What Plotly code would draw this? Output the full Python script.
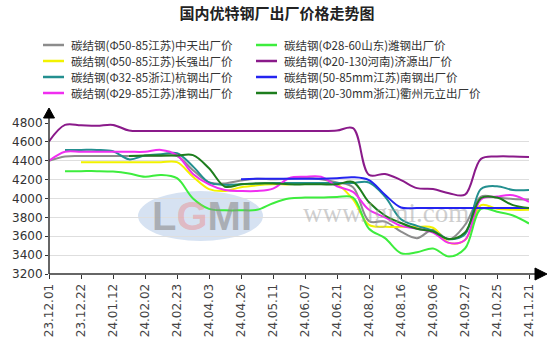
import plotly.graph_objects as go

# ---------------- data ----------------
x_index = list(range(31))
tick_positions = list(range(0, 31, 2))
tick_labels = ["23.12.01", "23.12.22", "24.01.12", "24.02.02", "24.02.23", "24.04.03",
               "24.04.26", "24.05.11", "24.06.07", "24.06.21", "24.08.02", "24.08.16",
               "24.09.06", "24.09.27", "24.10.25", "24.11.21"]
y_ticks = [3200, 3400, 3600, 3800, 4000, 4200, 4400, 4600, 4800]

N = None
s_zhongtian = [4400, 4445, 4450, 4450, 4450, 4450, 4450, 4450, 4450, 4300, 4170, 4160, 4190, 4210, 4205, 4210,
               4220, 4205, 4170, 4120, 3760, 3755, 3650, 3580, 3670, 3565, 3720, 4020, 4010, 3995, 3990]
s_changqiang = [N, N, 4385, 4385, 4385, 4385, 4385, 4385, 4385, 4230, 4100, 4080, 4120, 4140, 4150, 4150,
                4160, 4165, 4150, 3990, 3720, 3700, 3700, 3700, 3690, 3530, 3560, 3930, 3890, 3880, 3880]
s_hanggang = [N, 4515, 4515, 4515, 4500, 4415, 4455, 4470, 4480, 4340, 4170, 4145, 4150, 4160, 4165, 4165,
              4165, 4165, 4165, 4165, 4170, 4020, 3780, 3710, 3660, 3570, 3620, 4100, 4130, 4090, 4090]
s_huaigang = [4400, 4495, 4495, 4495, 4495, 4495, 4495, 4515, 4460, 4260, 4150, 4090, 4080, 4080, 4105, 4215,
              4230, 4230, 4130, 4070, 3880, 3800, 3710, 3680, 3640, 3530, 3560, 3990, 4020, 4035, 3965]
s_weigang = [N, 4290, 4290, 4290, 4285, 4265, 4230, 4250, 4215, 4000, 3890, 3875, 3875, 3880, 3950, 4000,
             4010, 4010, 4015, 4010, 3680, 3580, 3420, 3430, 3470, 3385, 3470, 3890, 3860, 3820, 3735]
s_jiyuan = [4605, 4780, 4775, 4770, 4780, 4720, 4715, 4715, 4715, 4715, 4715, 4715, 4715, 4715, 4715, 4715,
            4715, 4715, 4720, 4745, 4250, 4260, 4195, 4110, 4100, 4056, 4040, 4420, 4445, 4445, 4440]
s_nangang = [N, N, N, N, N, N, N, N, N, N, N, N, 4205, 4210, 4210, 4210,
             4210, 4210, 4215, 4225, 4195, 4040, 3905, 3900, 3900, 3900, 3900, 3900, 3900, 3900, 3900]
s_yuanli = [N, N, N, N, N, 4450, 4455, 4455, 4455, 4460, 4320, 4125, 4150, 4160, 4160, 4150,
            4150, 4150, 4150, 4175, 3960, 3820, 3740, 3680, 3650, 3570, 3640, 4005, 4010, 3930, 3900]

series_names = ["碳结钢(Φ50-85江苏)中天出厂价", "碳结钢(Φ50-85江苏)长强出厂价",
                "碳结钢(Φ32-85浙江)杭钢出厂价", "碳结钢(Φ29-85江苏)淮钢出厂价",
                "碳结钢(Φ28-60山东)潍钢出厂价", "碳结钢(Φ20-130河南)济源出厂价",
                "碳结钢(50-85mm江苏)南钢出厂价", "碳结钢(20-30mm浙江)衢州元立出厂价"]
series_values = [s_zhongtian, s_changqiang, s_hanggang, s_huaigang,
                 s_weigang, s_jiyuan, s_nangang, s_yuanli]
series_colors = ["#8c8c8c", "#f2f200", "#238f8f", "#f02ef0",
                 "#3ded3d", "#8a1a8a", "#2424f0", "#1d7d1d"]

title_text = "国内优特钢厂出厂价格走势图"

# ---------------- geometry helpers (pixel -> paper) ----------------
L, R, T, B = 49, 25, 123, 81
W, H = 554, 355
PW, PH = W - L - R, H - T - B


def px(xp):
    return (xp - L) / PW


def py(yp):
    return (H - B - yp) / PH


fig = go.Figure()
for name, vals, col in zip(series_names, series_values, series_colors):
    fig.add_trace(go.Scatter(x=x_index, y=vals, name=name, mode="lines",
                             line=dict(color=col, width=2, shape="spline", smoothing=1),
                             showlegend=False))

shapes = []
annotations = []

# watermark
shapes.append(dict(type="circle", xref="paper", yref="paper", layer="below",
                   x0=px(138), x1=px(263), y0=py(241), y1=py(191),
                   fillcolor="rgba(180,203,232,0.55)", line=dict(width=0)))
annotations.append(dict(xref="paper", yref="paper", x=px(202), y=py(216), showarrow=False,
                        xanchor="center", yanchor="middle", borderpad=0,
                        text="L<span style='color:rgba(240,120,120,0.65)'>G</span>MI",
                        font=dict(family="Liberation Sans", size=40, color="rgba(140,140,140,0.6)",
                                  weight="bold")))
annotations.append(dict(xref="paper", yref="paper", x=px(386), y=py(213), showarrow=False,
                        xanchor="center", yanchor="middle", borderpad=0,
                        text="www.lgmi.com",
                        font=dict(family="Liberation Serif", size=27, color="rgba(160,160,160,0.5)")))

# axes lines and arrows
ax_col = "#333333"
shapes.append(dict(type="line", xref="paper", yref="paper", x0=0, x1=0, y0=0, y1=py(117),
                   line=dict(color=ax_col, width=1.5)))
shapes.append(dict(type="line", xref="paper", yref="paper", x0=0, x1=px(536), y0=0, y1=0,
                   line=dict(color=ax_col, width=1.5)))
shapes.append(dict(type="path", xref="paper", yref="paper",
                   path=f"M {px(43.5)} {py(118)} L {px(49)} {py(108)} L {px(54.5)} {py(118)} Z",
                   fillcolor="black", line=dict(color="black", width=1)))
shapes.append(dict(type="path", xref="paper", yref="paper",
                   path=f"M {px(535)} {py(268)} L {px(547)} {py(274)} L {px(535)} {py(280)} Z",
                   fillcolor="black", line=dict(color="black", width=1)))

# custom legend (two columns, four rows)
rows_y = [45, 61, 77, 93]
col_line_x = [(43, 64), (256, 277)]
col_text_x = [70, 283]
legend_order = [0, 1, 2, 3, 4, 5, 6, 7]
for k, si in enumerate(legend_order):
    c = k // 4
    r = k % 4
    shapes.append(dict(type="line", xref="paper", yref="paper",
                       x0=px(col_line_x[c][0]), x1=px(col_line_x[c][1]),
                       y0=py(rows_y[r]), y1=py(rows_y[r]),
                       line=dict(color=series_colors[si], width=2.5)))
    annotations.append(dict(xref="paper", yref="paper", x=px(col_text_x[c]), y=py(rows_y[r]),
                            xanchor="left", yanchor="middle", showarrow=False, borderpad=0,
                            text=series_names[si],
                            font=dict(family="Noto Sans CJK SC", size=11.5, color="#333333")))

fig.update_layout(
    width=W, height=H, autosize=False,
    margin=dict(l=L, r=R, t=T, b=B, pad=0),
    paper_bgcolor="white", plot_bgcolor="white",
    title=dict(text=title_text, x=0.5, xref="container", xanchor="center",
               y=1 - 14 / H, yref="container", yanchor="middle",
               font=dict(family="Noto Sans CJK SC", size=15, color="#222222", weight="bold")),
    xaxis=dict(range=[0, 30], tickmode="array", tickvals=tick_positions, ticktext=tick_labels,
               tickangle=-90, ticks="outside", ticklen=4, tickcolor=ax_col, showgrid=False,
               zeroline=False, showline=False,
               tickfont=dict(family="DejaVu Sans", size=12, color="#444444")),
    yaxis=dict(range=[3200, 4800], tickmode="array", tickvals=y_ticks,
               ticks="outside", ticklen=3, tickcolor=ax_col, showgrid=True, gridcolor="#dedede",
               gridwidth=1, zeroline=False, showline=False,
               tickfont=dict(family="DejaVu Sans", size=12, color="#333333")),
    shapes=shapes, annotations=annotations, showlegend=False,
)

fig.write_html("out.html")
